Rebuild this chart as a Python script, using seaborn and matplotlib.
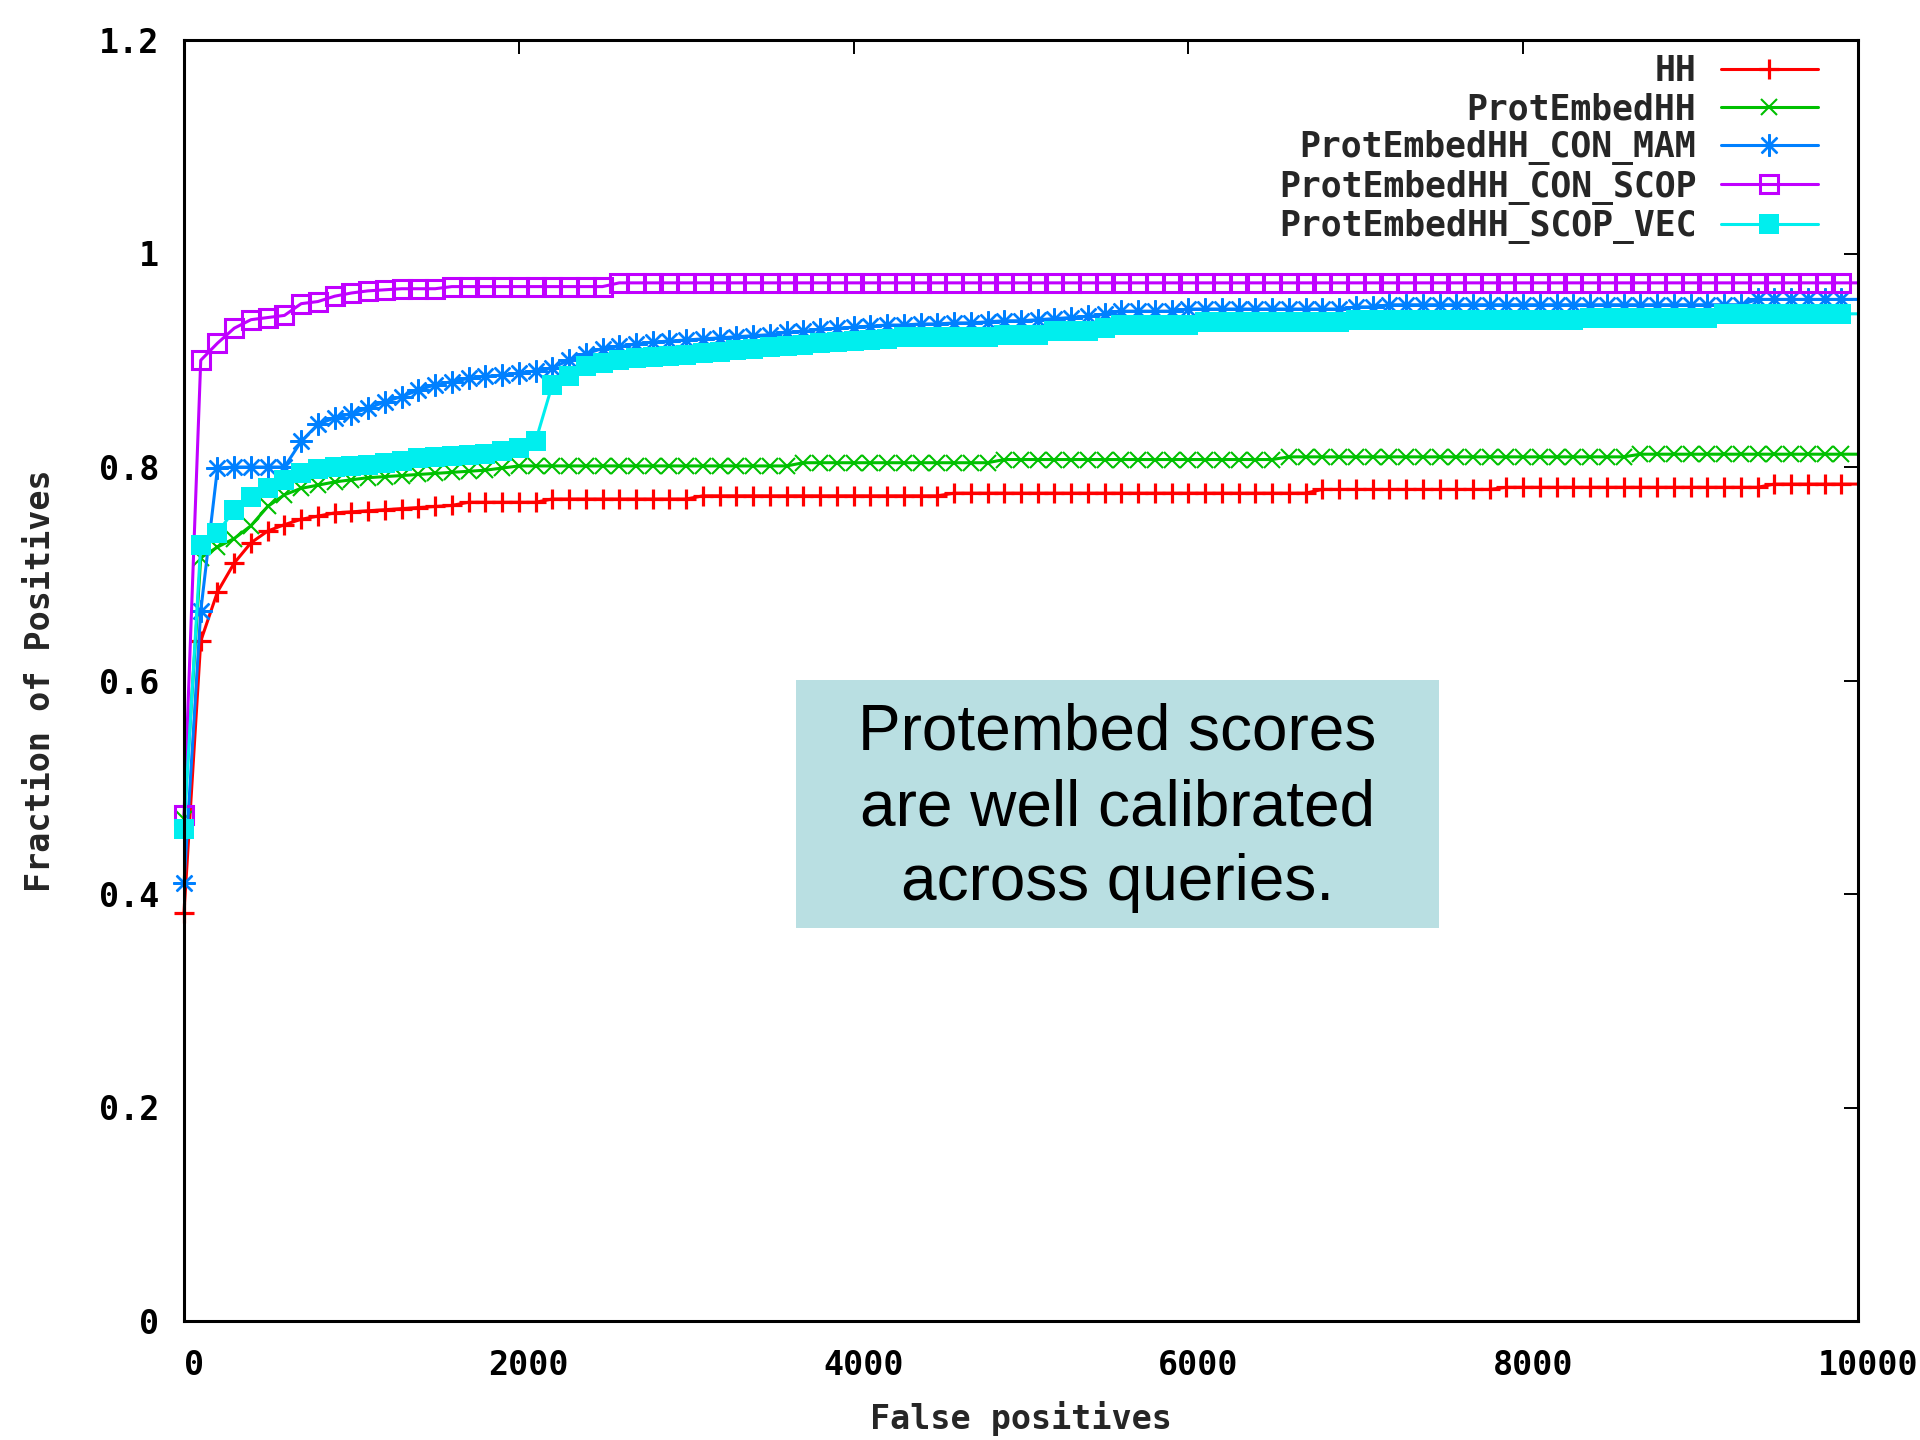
import numpy as np
import pandas as pd
import seaborn as sns
import matplotlib.pyplot as plt
from matplotlib.patches import Rectangle
from matplotlib.transforms import ScaledTranslation

# --- data (one point every 100 false positives) ---
false_pos = np.arange(0, 10001, 100)

hh = [0.382, 0.637, 0.683, 0.710, 0.729, 0.740, 0.746, 0.751, 0.754, 0.757,
      0.758, 0.759, 0.760, 0.761, 0.762, 0.763, 0.764, 0.767, 0.767, 0.767,
      0.767, 0.767, 0.770, 0.770, 0.770, 0.770, 0.770, 0.770, 0.770, 0.770,
      0.770, 0.773, 0.773, 0.773, 0.773, 0.773, 0.773, 0.773, 0.773, 0.773,
      0.773, 0.773, 0.773, 0.773, 0.773, 0.773, 0.7755, 0.7755, 0.7755, 0.7755,
      0.7755, 0.7755, 0.7755, 0.7755, 0.7755, 0.7755, 0.7755, 0.7755, 0.7755, 0.7755,
      0.7755, 0.7755, 0.7755, 0.7755, 0.7755, 0.7755, 0.7755, 0.7755, 0.779, 0.779,
      0.779, 0.779, 0.779, 0.779, 0.779, 0.779, 0.779, 0.779, 0.779, 0.781,
      0.781, 0.781, 0.781, 0.781, 0.781, 0.781, 0.781, 0.781, 0.781, 0.781,
      0.781, 0.781, 0.781, 0.781, 0.781, 0.784, 0.784, 0.784, 0.784, 0.784,
      0.784]

prot_hh = [0.470, 0.715, 0.725, 0.733, 0.745, 0.763, 0.774, 0.780, 0.783, 0.786,
           0.788, 0.790, 0.791, 0.792, 0.793, 0.794, 0.795, 0.796, 0.797, 0.799,
           0.801, 0.801, 0.801, 0.801, 0.801, 0.801, 0.801, 0.801, 0.801, 0.801,
           0.801, 0.801, 0.801, 0.801, 0.801, 0.801, 0.801, 0.804, 0.804, 0.804,
           0.804, 0.804, 0.804, 0.804, 0.804, 0.804, 0.804, 0.804, 0.804, 0.807,
           0.807, 0.807, 0.807, 0.807, 0.807, 0.807, 0.807, 0.807, 0.807, 0.807,
           0.807, 0.807, 0.807, 0.807, 0.807, 0.807, 0.8095, 0.8095, 0.8095, 0.8095,
           0.8095, 0.8095, 0.8095, 0.8095, 0.8095, 0.8095, 0.8095, 0.8095, 0.8095, 0.8095,
           0.8095, 0.8095, 0.8095, 0.8095, 0.8095, 0.8095, 0.8095, 0.812, 0.812, 0.812,
           0.812, 0.812, 0.812, 0.812, 0.812, 0.812, 0.812, 0.812, 0.812, 0.812,
           0.812]

con_mam = [0.410, 0.665, 0.799, 0.800, 0.800, 0.800, 0.800, 0.824, 0.840, 0.846,
           0.850, 0.855, 0.861, 0.866, 0.872, 0.877, 0.880, 0.883, 0.885, 0.886,
           0.888, 0.890, 0.893, 0.900, 0.906, 0.911, 0.913, 0.915, 0.917, 0.918,
           0.919, 0.920, 0.921, 0.922, 0.923, 0.924, 0.926, 0.927, 0.929, 0.930,
           0.931, 0.932, 0.933, 0.933, 0.934, 0.934, 0.935, 0.935, 0.936, 0.937,
           0.937, 0.938, 0.939, 0.940, 0.941, 0.943, 0.946, 0.946, 0.946, 0.946,
           0.948, 0.948, 0.948, 0.948, 0.948, 0.948, 0.948, 0.948, 0.948, 0.948,
           0.950, 0.950, 0.952, 0.952, 0.952, 0.952, 0.952, 0.952, 0.952, 0.952,
           0.952, 0.952, 0.952, 0.952, 0.952, 0.952, 0.952, 0.952, 0.952, 0.952,
           0.952, 0.952, 0.952, 0.952, 0.957, 0.957, 0.957, 0.957, 0.957, 0.957,
           0.957]

con_scop = [0.474, 0.900, 0.916, 0.930, 0.938, 0.940, 0.942, 0.953, 0.955, 0.960,
            0.963, 0.965, 0.966, 0.967, 0.967, 0.967, 0.969, 0.969, 0.969, 0.969,
            0.969, 0.969, 0.969, 0.969, 0.969, 0.969, 0.9725, 0.9725, 0.9725, 0.9725,
            0.9725, 0.9725, 0.9725, 0.9725, 0.9725, 0.9725, 0.9725, 0.9725, 0.9725, 0.9725,
            0.9725, 0.9725, 0.9725, 0.9725, 0.9725, 0.9725, 0.9725, 0.9725, 0.9725, 0.9725,
            0.9725, 0.9725, 0.9725, 0.9725, 0.9725, 0.9725, 0.9725, 0.9725, 0.9725, 0.9725,
            0.9725, 0.9725, 0.9725, 0.9725, 0.9725, 0.9725, 0.9725, 0.9725, 0.9725, 0.9725,
            0.9725, 0.9725, 0.9725, 0.9725, 0.9725, 0.9725, 0.9725, 0.9725, 0.9725, 0.9725,
            0.9725, 0.9725, 0.9725, 0.9725, 0.9725, 0.9725, 0.9725, 0.9725, 0.9725, 0.9725,
            0.9725, 0.9725, 0.9725, 0.9725, 0.9725, 0.9725, 0.9725, 0.9725, 0.9725, 0.9725,
            0.9725]

scop_vec = [0.461, 0.727, 0.738, 0.760, 0.772, 0.780, 0.788, 0.794, 0.798, 0.800,
            0.801, 0.802, 0.804, 0.806, 0.808, 0.809, 0.810, 0.811, 0.812, 0.815,
            0.818, 0.824, 0.877, 0.885, 0.895, 0.897, 0.900, 0.902, 0.903, 0.904,
            0.905, 0.907, 0.908, 0.910, 0.911, 0.912, 0.913, 0.914, 0.916, 0.917,
            0.918, 0.919, 0.920, 0.922, 0.922, 0.922, 0.922, 0.922, 0.922, 0.924,
            0.924, 0.924, 0.927, 0.927, 0.927, 0.930, 0.933, 0.933, 0.933, 0.933,
            0.933, 0.936, 0.936, 0.936, 0.936, 0.936, 0.936, 0.936, 0.936, 0.936,
            0.938, 0.938, 0.938, 0.938, 0.938, 0.938, 0.938, 0.938, 0.938, 0.938,
            0.938, 0.938, 0.938, 0.938, 0.940, 0.940, 0.940, 0.940, 0.940, 0.940,
            0.940, 0.940, 0.9435, 0.9435, 0.9435, 0.9435, 0.9435, 0.9435, 0.9435, 0.9435,
            0.9435]

y_ticks = [0, 0.2, 0.4, 0.6, 0.8, 1.0, 1.2]
y_tick_labels = ['0', '0.2', '0.4', '0.6', '0.8', '1', '1.2']
x_ticks = [0, 2000, 4000, 6000, 8000, 10000]

note = "Protembed scores\nare well calibrated\nacross queries."

# --- style ---
sns.set_theme(style="white")
plt.rcParams['font.family'] = ['DejaVu Sans Mono']
plt.rcParams['font.weight'] = 'bold'

fig = plt.figure(figsize=(19.2, 14.4), dpi=100)
ax = fig.add_axes([184 / 1920, 1 - 1321 / 1440, 1674 / 1920, 1281 / 1440])

series = [
    ("HH", hh, dict(color="#ff0000", marker="+", ms=15, mew=2.3, mec="#ff0000")),
    ("ProtEmbedHH", prot_hh, dict(color="#00c000", marker="x", ms=12, mew=1.5, mec="#00c000")),
    ("ProtEmbedHH_CON_MAM", con_mam, dict(color="#0080ff", marker=(8, 2, 0), ms=16, mew=1.7, mec="#0080ff")),
    ("ProtEmbedHH_CON_SCOP", con_scop, dict(color="#c000ff", marker="s", ms=13, mew=2.2, mec="#c000ff", mfc="none")),
    ("ProtEmbedHH_SCOP_VEC", scop_vec, dict(color="#00eeee", marker="s", ms=15, mew=0, mec="#00eeee")),
]

for name, vals, style in series:
    sns.lineplot(x=false_pos, y=vals, ax=ax, label=name, lw=2.2,
                 markevery=slice(0, 100), clip_on=False, **style)

ax.set_xlim(0, 10000)
ax.set_ylim(0, 1.2)
ax.set_xticks(x_ticks)
ax.set_xticklabels([str(v) for v in x_ticks])
ax.set_yticks(y_ticks)
ax.set_yticklabels(y_tick_labels)
ax.tick_params(direction='in', length=10, width=1.4, top=True, right=True,
               labelsize=24, colors='black')
ax.tick_params(axis='x', pad=20)
ax.tick_params(axis='y', pad=18)
for sp in ax.spines.values():
    sp.set_linewidth(2.2)
    sp.set_color('black')

ax.set_xlabel("False positives", fontsize=24, fontweight='bold', labelpad=14)
ax.set_ylabel("Fraction of Positives", fontsize=24, fontweight='bold', labelpad=30)

# gnuplot puts the x tick labels a little to the right of the tick
shift = ScaledTranslation(0.1, 0, fig.dpi_scale_trans)
for lbl in ax.get_xticklabels():
    lbl.set_transform(lbl.get_transform() + shift)

handles, labels = ax.get_legend_handles_labels()
ax.legend(handles, labels, loc='upper right', bbox_to_anchor=(0.976, 0.989),
          frameon=False, markerfirst=False, fontsize=25, handlelength=2.8,
          handletextpad=0.7, labelspacing=0.12, borderpad=0, borderaxespad=0,
          numpoints=1)

# annotation box
fig.add_artist(Rectangle((796 / 1920, 1 - 928 / 1440), 643 / 1920, 248 / 1440,
                         transform=fig.transFigure, facecolor='#b9dfe2',
                         edgecolor='none', zorder=5))
fig.text(1117.5 / 1920, 1 - 808 / 1440, note, ha='center', va='center',
         fontsize=46, family=['Liberation Sans'], fontweight='normal',
         linespacing=1.32, color='black', zorder=6)

fig.savefig("out.png", dpi=100)
